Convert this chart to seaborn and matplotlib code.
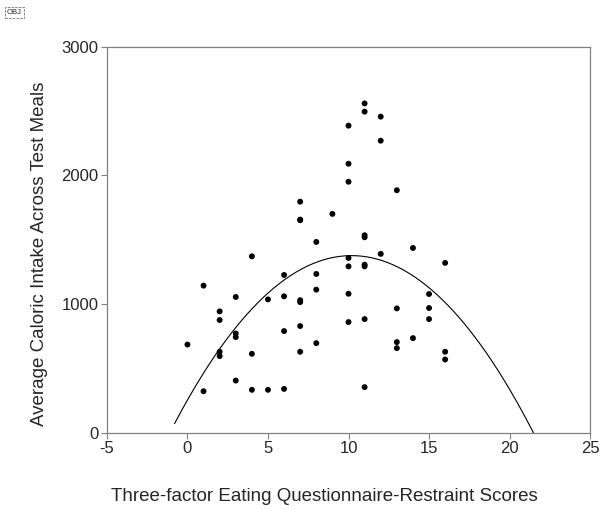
import matplotlib
matplotlib.use('Agg')
import matplotlib.pyplot as plt
import seaborn as sns
import numpy as np
import pandas as pd

# Dữ liệu
restraint = [0, 1, 1, 2, 2, 2, 2, 3, 3, 3, 3, 4, 4, 4, 5, 5, 6, 6, 6, 6,
             7, 7, 7, 7, 7, 7, 7, 8, 8, 8, 8, 9,
             10, 10, 10, 10, 10, 10, 10, 11, 11, 11, 11, 11, 11, 11, 11,
             12, 12, 12, 13, 13, 13, 13, 14, 14, 15, 15, 15, 16, 16, 16]
calories = [685, 1143, 322, 943, 876, 629, 595, 1055, 771, 743, 405, 1371, 613, 333, 1036, 333, 1226, 1060, 790, 340,
            1796, 1652, 1030, 1015, 829, 629, 1657, 1483, 1234, 1112, 696, 1701,
            2387, 2091, 1951, 1358, 1293, 1080, 860, 2560, 2496, 1535, 1519, 1306, 1293, 883, 354,
            2457, 2270, 1390, 1885, 966, 704, 657, 1436, 735, 1078, 969, 883, 1320, 629, 569]

# khoảng vẽ đường hồi quy bậc 2
curve_range = [-0.8, 21.6]

x_ticks = [-5, 0, 5, 10, 15, 20, 25]
y_ticks = [0, 1000, 2000, 3000]

sns.set_style('white')
plt.rcParams['font.family'] = ['Liberation Sans', 'DejaVu Sans']
plt.rcParams['axes.unicode_minus'] = False

df = pd.DataFrame({'score': restraint, 'kcal': calories})

coef = np.polyfit(df['score'], df['kcal'], 2)
xs = np.linspace(curve_range[0], curve_range[1], 200)
fit = pd.DataFrame({'score': xs, 'kcal': np.polyval(coef, xs)})

fig = plt.figure(figsize=(6.04, 5.09), dpi=100)
ax = fig.add_axes([0.177, 0.150, 0.800, 0.758])

sns.scatterplot(data=df, x='score', y='kcal', color='black', s=18, edgecolor='none', ax=ax)
sns.lineplot(data=fit, x='score', y='kcal', color='black', linewidth=0.8, ax=ax)

ax.set_xlim(-5, 25)
ax.set_ylim(0, 3000)
ax.set_xticks(x_ticks)
ax.set_yticks(y_ticks)
ax.tick_params(axis='both', direction='out', length=4, width=0.8, color='#808080',
               labelsize=12, pad=2, bottom=True, left=True)
for sp in ax.spines.values():
    sp.set_color('#808080')
    sp.set_linewidth(0.9)

ax.set_xlabel('Three-factor Eating Questionnaire-Restraint Scores', fontsize=13.5, labelpad=23, x=0.450)
ax.set_ylabel('Average Caloric Intake Across Test Meals', fontsize=13.5, labelpad=10, y=0.464)

fig.text(0.024, 0.975, 'OBJ', fontsize=5.5, ha='center', va='center',
         bbox=dict(boxstyle='square,pad=0.25', fc='white', ec='#555555', ls='--', lw=0.5))

fig.savefig('out.png', dpi=100)
